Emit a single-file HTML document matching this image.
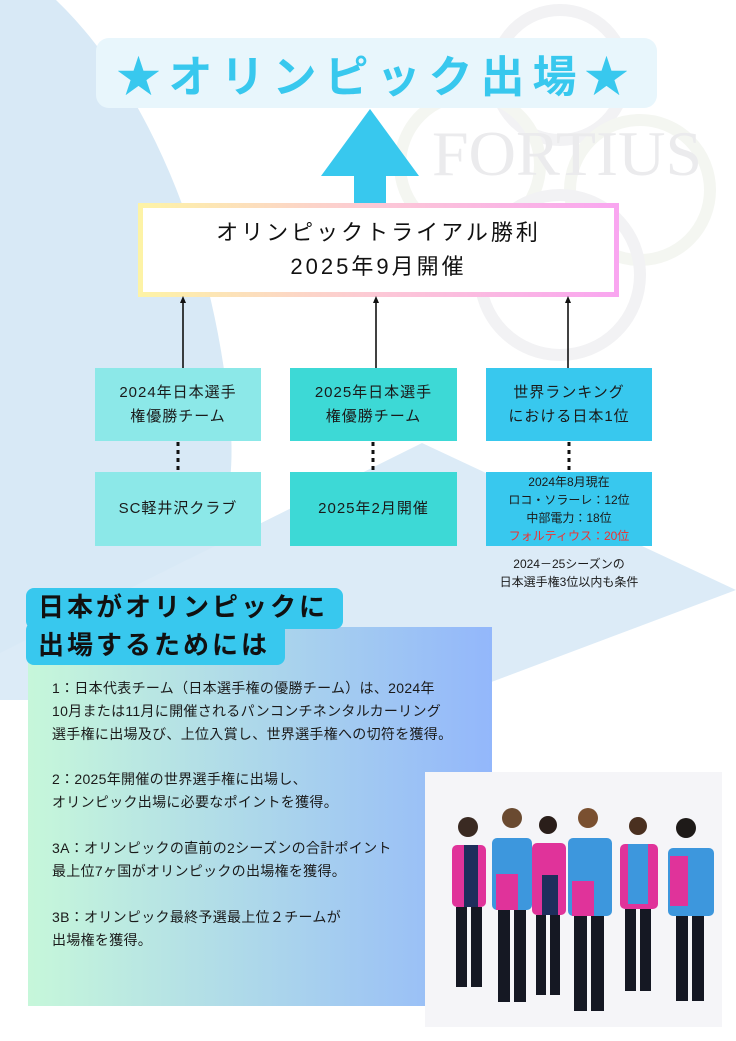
<!DOCTYPE html>
<html><head><meta charset="utf-8"><style>
*{margin:0;padding:0;box-sizing:border-box}
body{width:736px;height:1041px;position:relative;overflow:hidden;background:#fff;font-family:"Liberation Sans","Noto Sans CJK JP",sans-serif;color:#1a1a1a}
.a{position:absolute}
.box{position:absolute;display:flex;align-items:center;justify-content:center;text-align:center;font-size:15px;line-height:24px;letter-spacing:1px}
.txt{position:absolute;left:52px;font-size:14px;line-height:23px;white-space:nowrap;letter-spacing:0.3px}
</style></head><body>
<svg class="a" style="left:0;top:0" width="736" height="1041">
<defs>
<linearGradient id="dash" x1="0" x2="1"><stop offset="0" stop-color="#5fd9e6"/><stop offset="1" stop-color="#2a78c8"/></linearGradient>
<linearGradient id="bd" x1="0" x2="1"><stop offset="0" stop-color="#fdf3a6"/><stop offset="0.5" stop-color="#fcc8d6"/><stop offset="1" stop-color="#f9a6f0"/></linearGradient>
<linearGradient id="pn" x1="0" x2="1"><stop offset="0" stop-color="#c6f7da"/><stop offset="1" stop-color="#93b7fb"/></linearGradient>
</defs>
<path d="M0,0 L56,0 C150,90 215,250 230,420 C240,520 200,600 150,690 L0,700 Z" fill="#d8e9f6"/>
<polygon points="422,443 736,590 470,690 300,700 0,700 0,653" fill="#dcebf7"/>
<g fill="none" stroke="#f2f2f4" stroke-width="12">
<circle cx="560" cy="75" r="65"/><circle cx="470" cy="165" r="70" stroke="#f4f6f1"/><circle cx="640" cy="190" r="70" stroke="#f4f6f1"/><circle cx="560" cy="275" r="80"/>
</g>
<text x="432" y="175" font-family="Liberation Serif,serif" font-size="64" fill="#ebebed" textLength="270" lengthAdjust="spacingAndGlyphs">FORTIUS</text>
<line x1="0" y1="3" x2="736" y2="3" stroke="url(#dash)" stroke-width="6" stroke-dasharray="6,4"/>
<rect x="96" y="38" width="561" height="70" rx="13" fill="#e8f6fc"/>
<polygon points="370,109 419,176 321,176" fill="#38c8ee"/>
<rect x="354" y="175" width="32" height="29" fill="#38c8ee"/>
<rect x="140.5" y="205.5" width="476" height="89" fill="#fff" stroke="url(#bd)" stroke-width="5"/>
<g stroke="#111" stroke-width="1.6">
<line x1="183" y1="300" x2="183" y2="368"/><line x1="376" y1="300" x2="376" y2="368"/><line x1="568" y1="300" x2="568" y2="368"/>
<g stroke-width="3" stroke-dasharray="4,4"><line x1="178" y1="442" x2="178" y2="472"/><line x1="373" y1="442" x2="373" y2="472"/><line x1="569" y1="442" x2="569" y2="472"/></g>
</g>
<g fill="#111"><polygon points="183,296 180,303 186,303"/><polygon points="376,296 373,303 379,303"/><polygon points="568,296 565,303 571,303"/></g>
<rect x="28" y="627" width="464" height="379" fill="url(#pn)"/>
<rect x="26" y="588" width="317" height="41" rx="8" fill="#38c8ee"/>
<rect x="26" y="622" width="259" height="43" rx="8" fill="#38c8ee"/>
<rect x="425" y="772" width="297" height="255" fill="#f5f5f8"/>
<g>
<g transform="translate(450,815)"><circle cx="18" cy="12" r="10" fill="#3a2a22"/><rect x="2" y="30" width="34" height="62" rx="5" fill="#e0339a"/><rect x="14" y="30" width="14" height="62" fill="#1e2e5c"/><rect x="6" y="92" width="11" height="80" fill="#151823"/><rect x="21" y="92" width="11" height="80" fill="#151823"/></g>
<g transform="translate(490,806)"><circle cx="22" cy="12" r="10" fill="#6a4a30"/><rect x="2" y="32" width="40" height="72" rx="5" fill="#3d97dd"/><rect x="6" y="68" width="22" height="36" fill="#e0339a"/><rect x="8" y="104" width="12" height="92" fill="#151823"/><rect x="24" y="104" width="12" height="92" fill="#151823"/></g>
<g transform="translate(530,815)"><circle cx="18" cy="10" r="9" fill="#2a1e1a"/><rect x="2" y="28" width="34" height="72" rx="5" fill="#e0339a"/><rect x="12" y="60" width="16" height="40" fill="#1e2e5c"/><rect x="6" y="100" width="10" height="80" fill="#151823"/><rect x="20" y="100" width="10" height="80" fill="#151823"/></g>
<g transform="translate(566,806)"><circle cx="22" cy="12" r="10" fill="#7a5030"/><rect x="2" y="32" width="44" height="78" rx="5" fill="#3d97dd"/><rect x="6" y="75" width="22" height="35" fill="#e0339a"/><rect x="8" y="110" width="13" height="95" fill="#151823"/><rect x="25" y="110" width="13" height="95" fill="#151823"/></g>
<g transform="translate(618,816)"><circle cx="20" cy="10" r="9" fill="#4a3020"/><rect x="2" y="28" width="38" height="65" rx="5" fill="#e0339a"/><rect x="10" y="28" width="20" height="60" fill="#3d97dd"/><rect x="7" y="93" width="11" height="82" fill="#151823"/><rect x="22" y="93" width="11" height="82" fill="#151823"/></g>
<g transform="translate(668,816)"><circle cx="18" cy="12" r="10" fill="#1e1a18"/><rect x="0" y="32" width="46" height="68" rx="5" fill="#3d97dd"/><rect x="2" y="40" width="18" height="50" fill="#e0339a"/><rect x="8" y="100" width="12" height="85" fill="#151823"/><rect x="24" y="100" width="12" height="85" fill="#151823"/></g>
</g>
</svg>
<div class="a" style="left:96px;top:38px;width:561px;height:70px;display:flex;align-items:center;justify-content:center;font-size:44px;color:#38c8ee;letter-spacing:8px;font-weight:bold;white-space:nowrap">★オリンピック出場★</div>
<div class="box" style="left:143px;top:208px;width:471px;height:84px;font-size:22px;line-height:34px;letter-spacing:3px;color:#111">オリンピックトライアル勝利<br>2025年9月開催</div>
<div class="box" style="left:95px;top:368px;width:166px;height:73px;background:#8ce8e8">2024年日本選手<br>権優勝チーム</div>
<div class="box" style="left:290px;top:368px;width:167px;height:73px;background:#3dd9d6">2025年日本選手<br>権優勝チーム</div>
<div class="box" style="left:486px;top:368px;width:166px;height:73px;background:#38c8ee">世界ランキング<br>における日本1位</div>
<div class="box" style="left:95px;top:472px;width:166px;height:74px;background:#8ce8e8">SC軽井沢クラブ</div>
<div class="box" style="left:290px;top:472px;width:167px;height:74px;background:#3dd9d6">2025年2月開催</div>
<div class="box" style="left:486px;top:472px;width:166px;height:74px;background:#38c8ee;font-size:12px;line-height:18px;letter-spacing:0"><div style="white-space:nowrap">2024年8月現在<br>ロコ・ソラーレ：12位<br>中部電力：18位<br><span style="color:#f03030">フォルティウス：20位</span></div></div>
<div class="a" style="left:469px;top:555px;width:200px;text-align:center;font-size:12px;line-height:18px">2024－25シーズンの<br>日本選手権3位以内も条件</div>
<div class="a" style="left:38px;top:588px;font-size:26px;line-height:38px;letter-spacing:3px;color:#111;font-weight:bold">日本がオリンピックに<br>出場するためには</div>
<div class="txt" style="top:677px">1：日本代表チーム（日本選手権の優勝チーム）は、2024年<br>10月または11月に開催されるパンコンチネンタルカーリング<br>選手権に出場及び、上位入賞し、世界選手権への切符を獲得。</div>
<div class="txt" style="top:768px">2：2025年開催の世界選手権に出場し、<br>オリンピック出場に必要なポイントを獲得。</div>
<div class="txt" style="top:837px">3A：オリンピックの直前の2シーズンの合計ポイント<br>最上位7ヶ国がオリンピックの出場権を獲得。</div>
<div class="txt" style="top:906px">3B：オリンピック最終予選最上位２チームが<br>出場権を獲得。</div>
</body></html>
